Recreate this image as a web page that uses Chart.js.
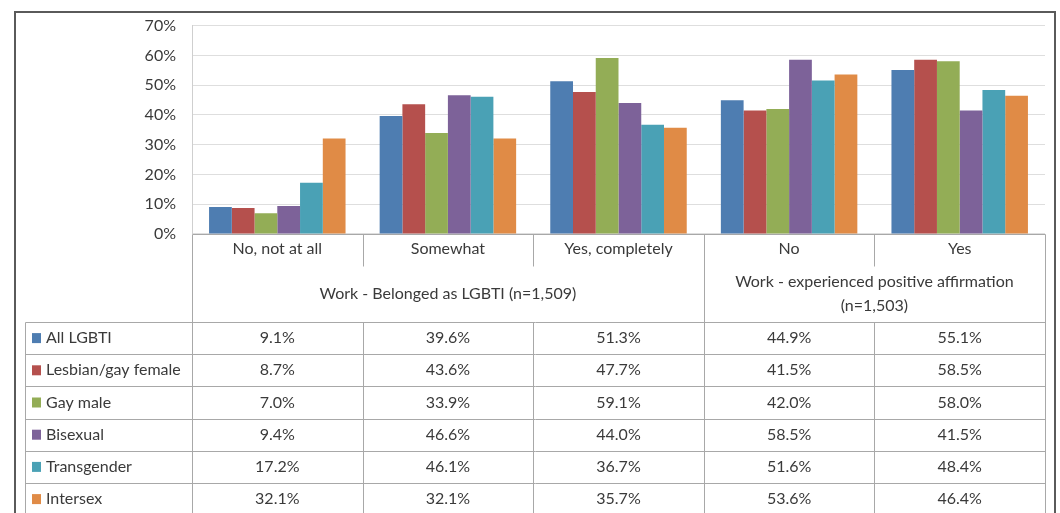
<!DOCTYPE html>
<html>
<head>
<meta charset="utf-8">
<script src="https://cdn.jsdelivr.net/npm/chart.js@4/dist/chart.umd.min.js"></script>
<style>
  body { margin: 0; background: #fff; }
  #wrap { width: 1060px; height: 513px; }
</style>
</head>
<body>
<div id="wrap"><canvas id="belong" width="1060" height="513"></canvas></div>
<script>
// data
var categories = ["No, not at all", "Somewhat", "Yes, completely", "No", "Yes"];
var groupLabels = [["Work - Belonged as LGBTI (n=1,509)"], ["Work - experienced positive affirmation", "(n=1,503)"]];
var groupSpans = [[0, 3], [3, 5]];
var seriesNames = ["All LGBTI", "Lesbian/gay female", "Gay male", "Bisexual", "Transgender", "Intersex"];
var allLgbti = [9.1, 39.6, 51.3, 44.9, 55.1];
var lesbianGayFemale = [8.7, 43.6, 47.7, 41.5, 58.5];
var gayMale = [7.0, 33.9, 59.1, 42.0, 58.0];
var bisexual = [9.4, 46.6, 44.0, 58.5, 41.5];
var transgender = [17.2, 46.1, 36.7, 51.6, 48.4];
var intersex = [32.1, 32.1, 35.7, 53.6, 46.4];
var yTicks = [0, 10, 20, 30, 40, 50, 60, 70];

var colors = ["#4e7db1", "#b5504d", "#93ad56", "#7d6299", "#4aa1b5", "#e08b46"];
var values = [allLgbti, lesbianGayFemale, gayMale, bisexual, transgender, intersex];
var font = "Lato, 'Open Sans', sans-serif";
var textCol = "#3a3a3a";
var lineCol = "#a8a8a8";

var datasets = seriesNames.map(function (n, i) {
  return { label: n, data: values[i], backgroundColor: colors[i], borderWidth: 0 };
});

// data table under the plot, drawn from the x scale
var tablePlugin = {
  id: "dataTable",
  afterDraw: function (chart) {
    var ctx = chart.ctx, a = chart.chartArea, xs = chart.scales.x;
    var n = categories.length;
    var w = (a.right - a.left) / n;
    var edge = function (i) { return a.left + i * w; };
    var top = a.bottom, labBot = top + 32, dataTop = top + 88, rowH = 32.2;
    var legLeft = 25, bottom = 530;
    ctx.save();
    ctx.strokeStyle = lineCol;
    ctx.lineWidth = 1;
    function line(x1, y1, x2, y2) {
      ctx.beginPath();
      ctx.moveTo(Math.round(x1) + 0.5, Math.round(y1) + 0.5);
      ctx.lineTo(Math.round(x2) + 0.5, Math.round(y2) + 0.5);
      ctx.stroke();
    }
    line(a.left, top, a.right, top);
    line(legLeft, dataTop, a.right, dataTop);
    for (var r = 1; r <= seriesNames.length; r++) line(legLeft, dataTop + r * rowH, a.right, dataTop + r * rowH);
    line(legLeft, dataTop, legLeft, bottom);
    for (var i = 0; i <= n; i++) {
      var full = i === 0 || i === n || groupSpans.some(function (g) { return g[0] === i; });
      if (full) line(edge(i), top, edge(i), bottom);
      else { line(edge(i), top, edge(i), labBot); line(edge(i), dataTop, edge(i), bottom); }
    }
    ctx.fillStyle = textCol;
    ctx.font = "16px " + font;
    ctx.textAlign = "center";
    ctx.textBaseline = "middle";
    categories.forEach(function (c, i) { ctx.fillText(c, xs.getPixelForValue(i), top + 15); });
    groupSpans.forEach(function (g, k) {
      var cx = (edge(g[0]) + edge(g[1])) / 2;
      var lines = groupLabels[k];
      var cy = top + 60, lh = 24;
      lines.forEach(function (t, j) {
        ctx.fillText(t, cx, cy + (j - (lines.length - 1) / 2) * lh);
      });
    });
    seriesNames.forEach(function (s, r) {
      var cy = dataTop + r * rowH + rowH / 2;
      ctx.fillStyle = colors[r];
      ctx.fillRect(32, cy - 5, 9, 10);
      ctx.fillStyle = textCol;
      ctx.textAlign = "left";
      ctx.fillText(s, 46, cy);
      ctx.textAlign = "center";
      values[r].forEach(function (v, i) {
        ctx.fillText(v.toFixed(1) + "%", xs.getPixelForValue(i), cy);
      });
    });
    // outer frame
    ctx.strokeStyle = "#5a5a5a";
    ctx.lineWidth = 2;
    ctx.strokeRect(15, 12, 1040, 520);
    ctx.restore();
  }
};

new Chart(document.getElementById("belong").getContext("2d"), {
  type: "bar",
  data: { labels: categories, datasets: datasets },
  options: {
    responsive: false,
    animation: false,
    layout: { padding: { left: 14, right: 15, top: 25, bottom: 279 } },
    plugins: { legend: { display: false }, tooltip: { enabled: false } },
    datasets: { bar: { categoryPercentage: 0.8, barPercentage: 1.0 } },
    scales: {
      x: { display: false },
      y: {
        min: 0, max: 70,
        afterFit: function (s) { s.width = 178; },
        afterBuildTicks: function (s) { s.ticks = yTicks.map(function (v) { return { value: v }; }); },
        border: { display: true, color: "#cfcfcf" },
        grid: { color: "#dedede", drawTicks: false },
        ticks: {
          padding: 16, color: textCol, font: { family: font, size: 16 },
          callback: function (v) { return v + "%"; }
        }
      }
    }
  },
  plugins: [tablePlugin]
});
</script>
</body>
</html>
